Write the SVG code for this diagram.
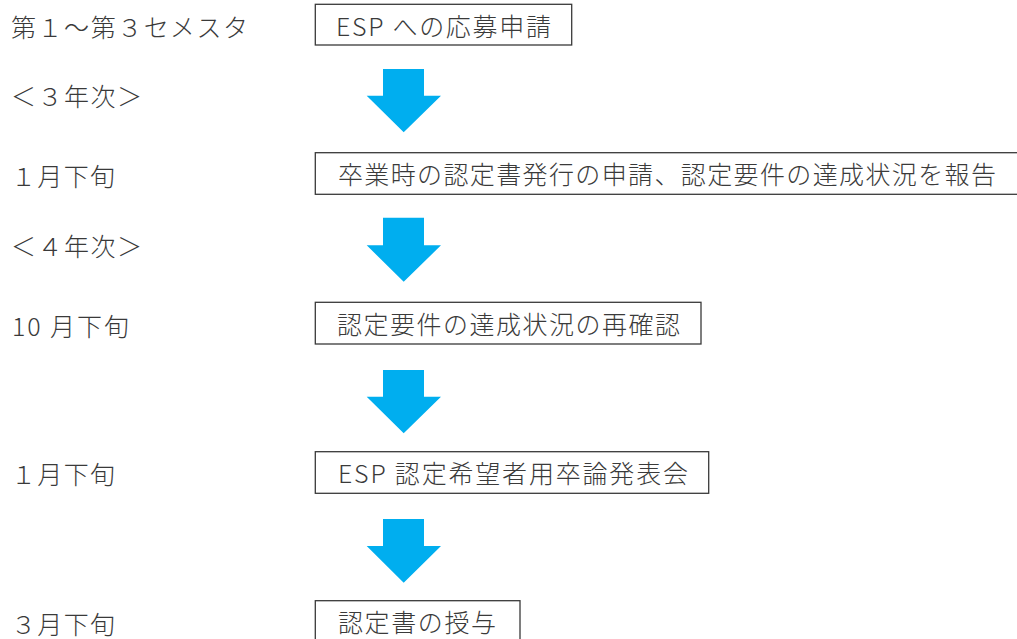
<svg xmlns="http://www.w3.org/2000/svg" width="1017" height="639" viewBox="0 0 1017 639">
  <style>
    text { font-family: "Noto Sans CJK JP", "Noto Sans", sans-serif; font-size: 25px; font-weight: 300; fill: #3a3a3a; }
    .box { fill: #ffffff; stroke: #3a3a3a; stroke-width: 1.3; }
    .arrow { fill: #00AEEF; stroke: none; }
  </style>
  <rect width="1017" height="639" fill="#ffffff"/>

  <g id="labels">
    <text x="11" y="36.5" textLength="237" lengthAdjust="spacing">第１～第３セメスタ</text>
    <text x="11" y="105.5" textLength="131" lengthAdjust="spacing">＜３年次＞</text>
    <text x="11" y="186" textLength="104" lengthAdjust="spacing">１月下旬</text>
    <text x="11" y="256" textLength="131" lengthAdjust="spacing">＜４年次＞</text>
    <text x="12" y="336" textLength="117" lengthAdjust="spacing">10 月下旬</text>
    <text x="11" y="484" textLength="104" lengthAdjust="spacing">１月下旬</text>
    <text x="11" y="634" textLength="104" lengthAdjust="spacing">３月下旬</text>
  </g>

  <g id="node1">
    <rect class="box" x="315.3" y="4.3" width="256.4" height="40.7"/>
    <text x="336" y="35.5" textLength="215" lengthAdjust="spacing">ESP への応募申請</text>
  </g>
  <g id="node2">
    <rect class="box" x="315.3" y="152.7" width="710" height="41.6"/>
    <text x="338" y="183.5" textLength="658" lengthAdjust="spacing">卒業時の認定書発行の申請、認定要件の達成状況を報告</text>
  </g>
  <g id="node3">
    <rect class="box" x="315.3" y="302.3" width="385.7" height="41.7"/>
    <text x="337" y="333.5" textLength="343" lengthAdjust="spacing">認定要件の達成状況の再確認</text>
  </g>
  <g id="node4">
    <rect class="box" x="315.3" y="451.7" width="393.4" height="41.6"/>
    <text x="338" y="482.5" textLength="350" lengthAdjust="spacing">ESP 認定希望者用卒論発表会</text>
  </g>
  <g id="node5">
    <rect class="box" x="315.3" y="600.7" width="204.7" height="50"/>
    <text x="338" y="632" textLength="158" lengthAdjust="spacing">認定書の授与</text>
  </g>

  <g id="connectors">
    <polygon class="arrow" points="383,69 424,69 424,95.7 441,95.7 403.7,132.3 366.7,95.7 383,95.7"/>
    <polygon class="arrow" points="383,217.7 424,217.7 424,245.3 441,245.3 403.7,281.7 366.7,245.3 383,245.3"/>
    <polygon class="arrow" points="383,370 424,370 424,396.7 441,396.7 403.7,433.3 366.7,396.7 383,396.7"/>
    <polygon class="arrow" points="383,519 424,519 424,546 441,546 403.7,582.7 366.7,546 383,546"/>
  </g>
</svg>
